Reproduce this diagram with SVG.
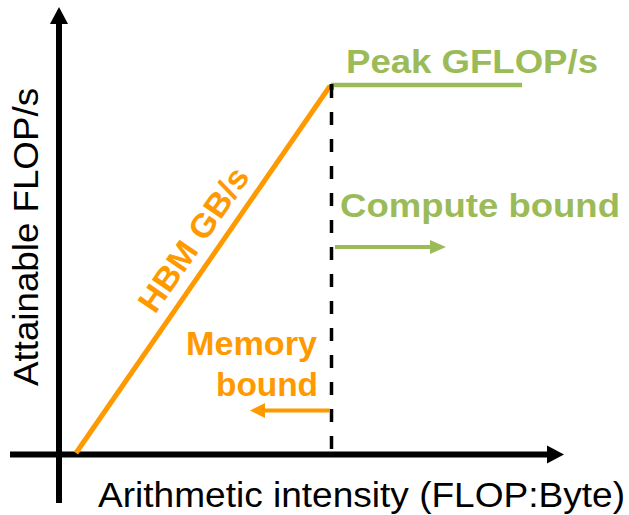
<svg xmlns="http://www.w3.org/2000/svg" width="629" height="515" viewBox="0 0 629 515">
  <style>
    .axis { stroke: #000; stroke-width: 6; fill: none; }
    .green { fill: #9BBB59; }
    .orange { fill: #FF9900; }
    .lbl { font-family: "Liberation Sans", Arial, sans-serif; }
    .bold { font-weight: bold; }
  </style>
  <defs>
    <marker id="axHead" markerUnits="userSpaceOnUse" markerWidth="17" markerHeight="18" refX="0" refY="9" orient="auto" overflow="visible">
      <path d="M0,0 L17,9 L0,18 Z" fill="#000"/>
    </marker>
    <marker id="gHead" markerUnits="userSpaceOnUse" markerWidth="16" markerHeight="14" refX="0" refY="7" orient="auto" overflow="visible">
      <path d="M0,0 L16,7 L0,14 Z" fill="#9BBB59"/>
    </marker>
    <marker id="oHead" markerUnits="userSpaceOnUse" markerWidth="15" markerHeight="15" refX="0" refY="7.5" orient="auto" overflow="visible">
      <path d="M0,0 L15,7.5 L0,15 Z" fill="#FF9900"/>
    </marker>
  </defs>
  <rect width="629" height="515" fill="#fff"/>

  <g id="connectors">
    <line id="x-axis" class="axis" x1="10" y1="454.5" x2="547" y2="454.5" marker-end="url(#axHead)"/>
    <line id="y-axis" class="axis" x1="59" y1="503" x2="59" y2="24" marker-end="url(#axHead)"/>
    <line id="ridge" x1="331.5" y1="85" x2="331.5" y2="452" stroke="#000" stroke-width="3.5" stroke-dasharray="13 14"/>
    <line id="bandwidth-roof" x1="76" y1="453" x2="330" y2="86" stroke="#FF9900" stroke-width="5"/>
    <line id="compute-roof" x1="331" y1="85" x2="522" y2="85" stroke="#9BBB59" stroke-width="4.7"/>
    <line id="compute-arrow" x1="335" y1="247" x2="430" y2="247" stroke="#9BBB59" stroke-width="4" marker-end="url(#gHead)"/>
    <line id="memory-arrow" x1="330" y1="410.5" x2="265" y2="410.5" stroke="#FF9900" stroke-width="4" marker-end="url(#oHead)"/>
    <rect x="329.5" y="84" width="4" height="6" fill="#000"/>
  </g>

  <g id="peak-label">
    <text class="lbl bold green" x="346" y="72.5" font-size="33" textLength="252" lengthAdjust="spacingAndGlyphs">Peak GFLOP/s</text>
  </g>
  <g id="compute-label">
    <text class="lbl bold green" x="340" y="217" font-size="33" textLength="280" lengthAdjust="spacingAndGlyphs">Compute bound</text>
  </g>
  <g id="memory-label">
    <text class="lbl bold orange" x="317" y="355" font-size="34" text-anchor="end" textLength="131" lengthAdjust="spacingAndGlyphs">Memory</text>
    <text class="lbl bold orange" x="318" y="396" font-size="34" text-anchor="end" textLength="102" lengthAdjust="spacingAndGlyphs">bound</text>
  </g>
  <g id="hbm-label">
    <text class="lbl bold orange" transform="translate(155,315) rotate(-55.3)" font-size="33" textLength="168" lengthAdjust="spacingAndGlyphs">HBM GB/s</text>
  </g>
  <g id="y-label">
    <text class="lbl" transform="translate(38,386) rotate(-90)" font-size="35" fill="#000" textLength="298" lengthAdjust="spacingAndGlyphs">Attainable FLOP/s</text>
  </g>
  <g id="x-label">
    <text class="lbl" x="98" y="506.5" font-size="35.5" fill="#000" textLength="527" lengthAdjust="spacingAndGlyphs">Arithmetic intensity (FLOP:Byte)</text>
  </g>
</svg>
